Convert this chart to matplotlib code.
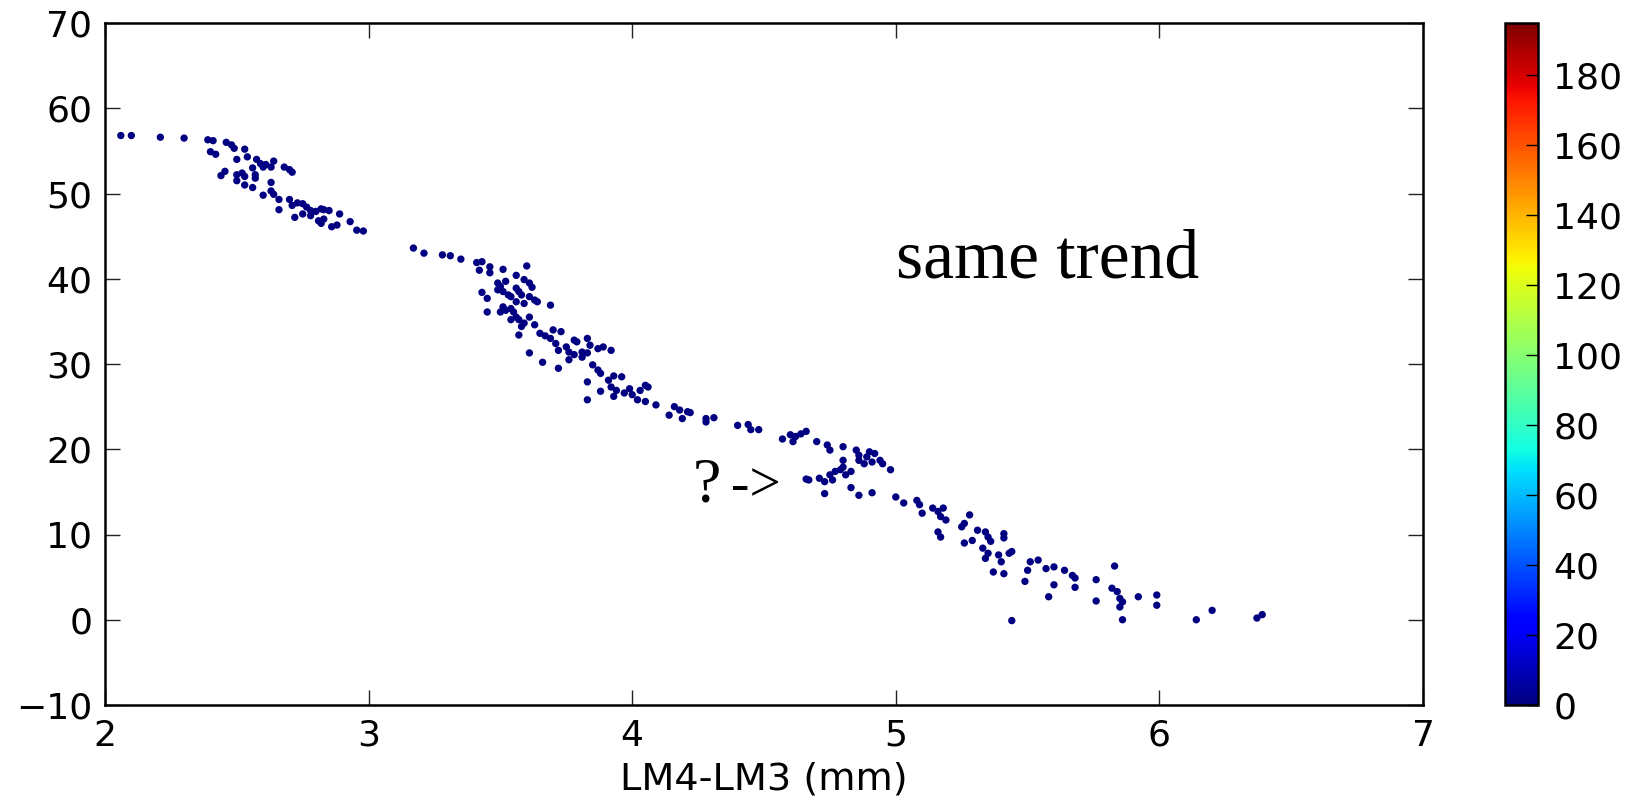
import matplotlib
matplotlib.use("agg")
import matplotlib.pyplot as plt
import numpy as np

# LM4-LM3 distance (mm) and the y value for each specimen
lm_diff = [
    # upper cluster, x < 3.1
    2.06, 2.10, 2.21, 2.30, 2.39, 2.41, 2.40, 2.42, 2.46, 2.48, 2.49, 2.53, 2.50, 2.54,
    2.575, 2.59, 2.60, 2.61, 2.63, 2.64, 2.56, 2.57, 2.57, 2.68, 2.70, 2.71, 2.455, 2.44,
    2.50, 2.52, 2.53, 2.50, 2.53, 2.56, 2.60, 2.63, 2.63, 2.64, 2.66, 2.66, 2.70, 2.71,
    2.73, 2.75, 2.765, 2.78, 2.80, 2.82, 2.83, 2.85, 2.72, 2.75, 2.78, 2.81, 2.83, 2.82,
    2.86, 2.88, 2.89, 2.93, 2.955, 2.98,
    # middle cluster
    3.17, 3.21, 3.28, 3.31, 3.35, 3.41, 3.43, 3.42, 3.46, 3.46, 3.51, 3.60, 3.56, 3.59,
    3.61, 3.62, 3.49, 3.50, 3.52, 3.49, 3.51, 3.53, 3.54, 3.56, 3.57, 3.58, 3.56, 3.59,
    3.61, 3.63, 3.64, 3.43, 3.45, 3.69, 3.45, 3.51, 3.52, 3.54, 3.55, 3.50, 3.54, 3.56,
    3.57, 3.59, 3.61, 3.58, 3.63, 3.57, 3.61, 3.65, 3.67, 3.70, 3.73, 3.69, 3.71, 3.72,
    3.66, 3.72, 3.75, 3.78, 3.79, 3.76, 3.78, 3.81, 3.81, 3.83, 3.84, 3.83, 3.87, 3.89,
    3.92, 3.76, 3.85, 3.87, 3.88, 3.83, 3.83, 3.88, 3.91, 3.93, 3.96, 3.92, 3.94, 3.93,
    3.97, 3.99, 4.00, 4.03, 4.05, 4.06, 4.02, 4.05, 4.09, 4.14, 4.16, 4.18, 4.19, 4.21,
    4.22, 4.28, 4.31, 4.28,
    # around the "?" split
    4.40, 4.44, 4.45, 4.48, 4.57, 4.60, 4.62, 4.61, 4.64, 4.66, 4.70, 4.74, 4.75, 4.80,
    4.85, 4.86, 4.86, 4.89, 4.90, 4.91, 4.92, 4.94, 4.95, 4.98, 4.88, 4.80, 4.80, 4.83,
    4.81, 4.79, 4.77, 4.75, 4.76, 4.73, 4.71, 4.67, 4.66, 4.73, 4.83, 4.86, 4.91,
    5.00, 5.03, 5.08, 5.09, 5.10, 5.14, 5.16, 5.18, 5.19, 5.17, 5.16, 5.17,
    # lower tail
    5.28, 5.26, 5.25, 5.31, 5.34, 5.35, 5.36, 5.41, 5.41, 5.26, 5.29, 5.33, 5.35, 5.34,
    5.39, 5.40, 5.44, 5.43, 5.37, 5.41, 5.44, 5.49, 5.50, 5.51, 5.54, 5.57, 5.60, 5.60,
    5.58, 5.64, 5.67, 5.68, 5.68, 5.76, 5.76, 5.83, 5.82, 5.84, 5.85, 5.85, 5.86, 5.86,
    5.92, 5.99, 5.99, 6.14, 6.20, 6.37, 6.39,
]
y_vals = [
    56.8, 56.8, 56.6, 56.5, 56.3, 56.2, 54.9, 54.6, 56.0, 55.7, 55.3, 55.2, 54.0, 54.3,
    54.0, 53.5, 53.1, 53.4, 53.1, 53.8, 53.0, 52.2, 51.8, 53.1, 52.8, 52.5, 52.6, 52.1,
    52.2, 52.4, 52.0, 51.5, 51.0, 50.7, 49.8, 51.3, 50.3, 49.9, 49.3, 48.1, 49.3, 48.6,
    48.9, 48.8, 48.4, 48.0, 47.9, 48.2, 48.1, 48.0, 47.2, 47.6, 47.4, 46.8, 47.0, 46.5,
    46.1, 46.3, 47.6, 46.7, 45.7, 45.6,
    43.6, 43.0, 42.8, 42.7, 42.3, 41.9, 42.0, 41.0, 41.4, 40.7, 41.1, 41.5, 40.4, 39.9,
    39.5, 39.0, 39.5, 39.1, 39.7, 38.7, 38.5, 38.1, 37.9, 38.9, 38.5, 38.1, 37.3, 37.1,
    37.9, 37.5, 37.3, 38.4, 37.7, 36.9, 36.1, 36.7, 36.3, 36.5, 36.1, 36.1, 35.2, 35.5,
    35.2, 34.8, 35.5, 34.4, 34.6, 33.4, 31.3, 33.6, 33.3, 34.0, 33.8, 33.0, 32.4, 31.6,
    30.2, 29.5, 32.0, 32.8, 32.6, 31.4, 31.1, 31.4, 30.8, 33.0, 32.2, 31.3, 31.8, 32.0,
    31.6, 30.5, 29.9, 29.3, 28.9, 27.9, 25.8, 26.8, 28.1, 28.6, 28.5, 27.3, 26.9, 26.2,
    26.6, 27.1, 26.4, 26.9, 27.5, 27.3, 25.8, 25.6, 25.2, 24.0, 25.0, 24.6, 23.6, 24.4,
    24.3, 23.6, 23.7, 23.2,
    22.8, 22.9, 22.3, 22.3, 21.2, 21.7, 21.5, 20.9, 21.8, 22.1, 20.9, 20.5, 19.9, 20.3,
    19.9, 19.3, 18.7, 19.1, 19.7, 18.5, 19.5, 18.7, 18.3, 17.6, 18.3, 18.7, 17.9, 17.4,
    17.0, 17.6, 17.4, 17.0, 16.4, 16.2, 16.6, 16.4, 16.5, 14.8, 15.5, 14.6, 14.9,
    14.4, 13.7, 14.0, 13.5, 12.5, 13.1, 12.7, 13.1, 11.7, 12.1, 10.3, 9.7,
    12.3, 11.3, 10.9, 10.5, 10.3, 9.7, 9.2, 10.1, 9.6, 9.0, 9.3, 8.4, 7.8, 7.2,
    7.6, 6.8, 8.0, 7.8, 5.6, 5.4, -0.1, 4.5, 5.8, 6.8, 7.0, 6.0, 6.2, 4.1,
    2.7, 5.8, 5.2, 4.9, 3.8, 4.7, 2.2, 6.3, 3.7, 3.3, 2.5, 1.5, 2.1, 0.0,
    2.7, 2.9, 1.7, 0.0, 1.1, 0.2, 0.6,
]
point_value = 0  # every point sits at the bottom of the colour scale

x_ticks = [2, 3, 4, 5, 6, 7]
y_ticks = [-10, 0, 10, 20, 30, 40, 50, 60, 70]
cbar_ticks = [0, 20, 40, 60, 80, 100, 120, 140, 160, 180]

fig = plt.figure(figsize=(16.45, 8.01), dpi=100)
ax = fig.add_axes([105 / 1645, 1 - 705 / 801, 1318 / 1645, 682 / 801])
cax = fig.add_axes([1505 / 1645, 1 - 705 / 801, 33 / 1645, 682 / 801])

sc = ax.scatter(lm_diff, y_vals, c=[point_value] * len(lm_diff), cmap="jet",
                vmin=0, vmax=195, s=28, edgecolors="none")

ax.set_xlim(2, 7)
ax.set_ylim(-10, 70)
ax.set_xticks(x_ticks)
ax.set_yticks(y_ticks)
ax.set_xlabel("LM4-LM3 (mm)", fontsize=27.5, labelpad=6)
ax.tick_params(direction="in", length=11, width=1, labelsize=26,
               top=True, right=True, color="#222222")
ax.tick_params(axis="x", pad=10)
ax.tick_params(axis="y", pad=9)
for sp in ax.spines.values():
    sp.set_linewidth(1.8)

# hand-written style notes on the plot
ax.text(5.0, 40.2, "same trend", fontsize=50, family="Liberation Serif",
        ha="left", va="baseline")
ax.text(4.23, 13.85, "?", fontsize=46, family="Liberation Serif",
        ha="left", va="baseline")
ax.text(4.375, 13.85, "->", fontsize=40, family="Liberation Serif",
        ha="left", va="baseline")

cb = fig.colorbar(sc, cax=cax, ticks=cbar_ticks)
cb.outline.set_linewidth(1.8)
cax.tick_params(direction="in", length=9, width=1, labelsize=26, pad=11)

fig.savefig("out.png", dpi=100)
